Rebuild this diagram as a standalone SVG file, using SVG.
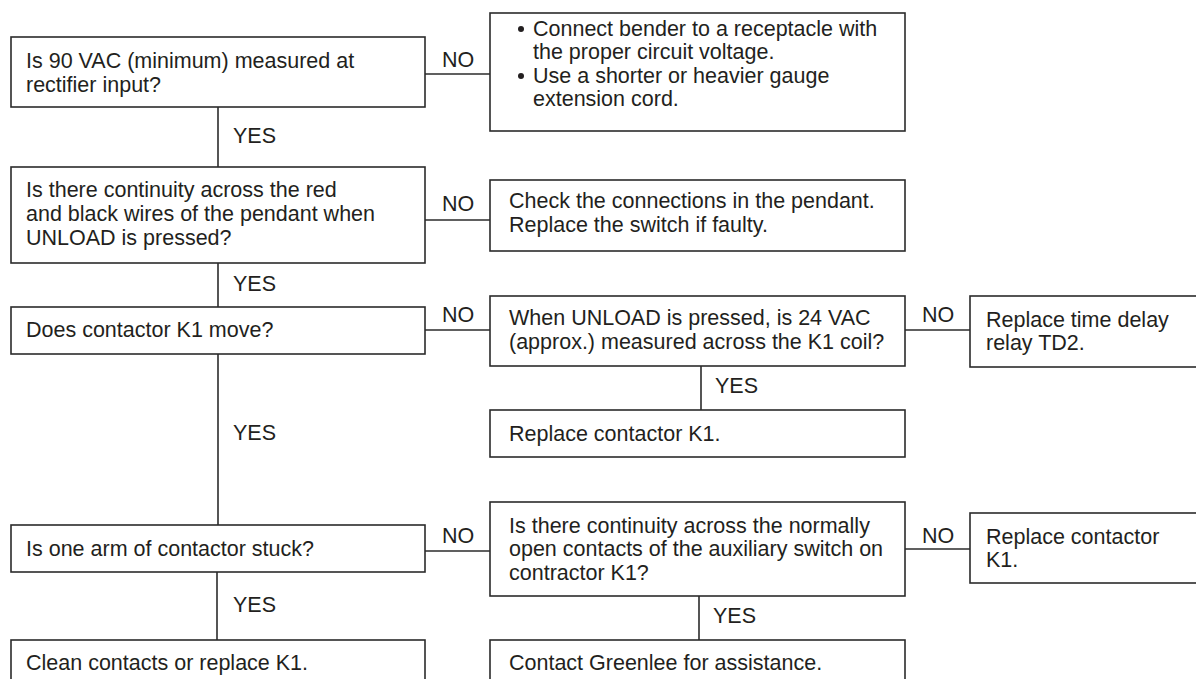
<svg xmlns="http://www.w3.org/2000/svg" width="1196" height="679" viewBox="0 0 1196 679">
<style>
.box{fill:#fff;stroke:#2b2b2b;stroke-width:1.6}
.ln{stroke:#2b2b2b;stroke-width:1.6;fill:none}
text{font-family:"Liberation Sans",Arial,sans-serif;font-size:21.5px;fill:#231f20}
</style>
<rect width="1196" height="679" fill="#fff"/>
<g id="connectors">
<line class="ln" x1="425" y1="74" x2="490" y2="74"/>
<text x="442" y="67">NO</text>
<line class="ln" x1="218" y1="107" x2="218" y2="167"/>
<text x="233" y="143">YES</text>
<line class="ln" x1="425" y1="220" x2="490" y2="220"/>
<text x="442" y="211">NO</text>
<line class="ln" x1="218" y1="263" x2="218" y2="307"/>
<text x="233" y="291">YES</text>
<line class="ln" x1="425" y1="330" x2="490" y2="330"/>
<text x="442" y="322">NO</text>
<line class="ln" x1="905" y1="330" x2="970" y2="330"/>
<text x="922" y="322">NO</text>
<line class="ln" x1="701" y1="366" x2="701" y2="410"/>
<text x="715" y="393">YES</text>
<line class="ln" x1="218" y1="354" x2="218" y2="525"/>
<text x="233" y="440">YES</text>
<line class="ln" x1="425" y1="551" x2="490" y2="551"/>
<text x="442" y="543">NO</text>
<line class="ln" x1="905" y1="549" x2="970" y2="549"/>
<text x="922" y="543">NO</text>
<line class="ln" x1="217" y1="572" x2="217" y2="640"/>
<text x="233" y="612">YES</text>
<line class="ln" x1="699" y1="596" x2="699" y2="640"/>
<text x="713" y="623">YES</text>
</g>
<g id="q1">
<rect class="box" x="11" y="37" width="414" height="70"/>
<text x="26" y="68">Is 90 VAC (minimum) measured at</text>
<text x="26" y="92">rectifier input?</text>
</g>
<g id="a1">
<rect class="box" x="490" y="13" width="415" height="118"/>
<circle cx="521" cy="29" r="3" fill="#231f20"/>
<text x="533" y="36">Connect bender to a receptacle with</text>
<text x="533" y="59">the proper circuit voltage.</text>
<circle cx="521" cy="76" r="3" fill="#231f20"/>
<text x="533" y="83">Use a shorter or heavier gauge</text>
<text x="533" y="106">extension cord.</text>
</g>
<g id="q2">
<rect class="box" x="11" y="167" width="414" height="96"/>
<text x="26" y="197">Is there continuity across the red</text>
<text x="26" y="221">and black wires of the pendant when</text>
<text x="26" y="245">UNLOAD is pressed?</text>
</g>
<g id="a2">
<rect class="box" x="490" y="180" width="415" height="71"/>
<text x="509" y="208">Check the connections in the pendant.</text>
<text x="509" y="232">Replace the switch if faulty.</text>
</g>
<g id="q3">
<rect class="box" x="11" y="307" width="414" height="47"/>
<text x="26" y="337">Does contactor K1 move?</text>
</g>
<g id="q4">
<rect class="box" x="490" y="296" width="415" height="70"/>
<text x="509" y="325">When UNLOAD is pressed, is 24 VAC</text>
<text x="509" y="349">(approx.) measured across the K1 coil?</text>
</g>
<g id="a4">
<rect class="box" x="970" y="296" width="240" height="71"/>
<text x="986" y="327">Replace time delay</text>
<text x="986" y="350">relay TD2.</text>
</g>
<g id="a5">
<rect class="box" x="490" y="410" width="415" height="47"/>
<text x="509" y="441">Replace contactor K1.</text>
</g>
<g id="q5">
<rect class="box" x="11" y="525" width="414" height="47"/>
<text x="26" y="556">Is one arm of contactor stuck?</text>
</g>
<g id="q6">
<rect class="box" x="490" y="502" width="415" height="94"/>
<text x="509" y="533">Is there continuity across the normally</text>
<text x="509" y="556">open contacts of the auxiliary switch on</text>
<text x="509" y="580">contractor K1?</text>
</g>
<g id="a6">
<rect class="box" x="970" y="513" width="240" height="70"/>
<text x="986" y="544">Replace contactor</text>
<text x="986" y="567">K1.</text>
</g>
<g id="a7">
<rect class="box" x="11" y="640" width="414" height="60"/>
<text x="26" y="670">Clean contacts or replace K1.</text>
</g>
<g id="a8">
<rect class="box" x="490" y="640" width="415" height="60"/>
<text x="509" y="670">Contact Greenlee for assistance.</text>
</g>
</svg>
